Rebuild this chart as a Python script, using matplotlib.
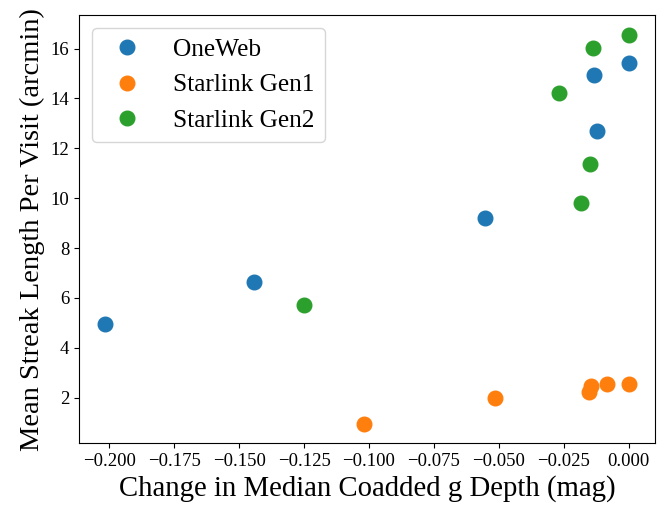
import numpy as np
import matplotlib
matplotlib.use("Agg")
import matplotlib.pyplot as plt

plt.rcParams['font.family'] = ['Liberation Serif', 'DejaVu Serif']
plt.rcParams['mathtext.fontset'] = 'stix'

# values
oneweb_x = [-0.2015, -0.1442, -0.0552, -0.0134, -0.0123, 0.0]
oneweb_y = [4.97, 6.65, 9.22, 14.96, 12.71, 15.44]

gen1_x = [-0.1019, -0.0517, -0.0153, -0.0146, -0.0084, 0.0]
gen1_y = [0.96, 2.0, 2.24, 2.48, 2.56, 2.56]

gen2_x = [-0.1249, -0.0268, -0.0184, -0.0149, -0.0138, 0.0]
gen2_y = [5.73, 14.23, 9.82, 11.39, 16.04, 16.56]

series = [("OneWeb", oneweb_x, oneweb_y),
          ("Starlink Gen1", gen1_x, gen1_y),
          ("Starlink Gen2", gen2_x, gen2_y)]

fig, ax = plt.subplots(figsize=(6.65, 5.08), dpi=100)
for label, xs, ys in series:
    ax.plot(xs, ys, 'o', ms=10.5, label=label)

ax.set_xlabel("Change in Median Coadded g Depth (mag)", fontsize=20.7)
ax.set_ylabel("Mean Streak Length Per Visit (arcmin)", fontsize=20.5)
ax.tick_params(labelsize=13.5)
ax.legend(fontsize=18.3, loc='upper left')

fig.subplots_adjust(left=0.119, right=0.985, top=0.97, bottom=0.128)
fig.savefig("out.png", dpi=100)
